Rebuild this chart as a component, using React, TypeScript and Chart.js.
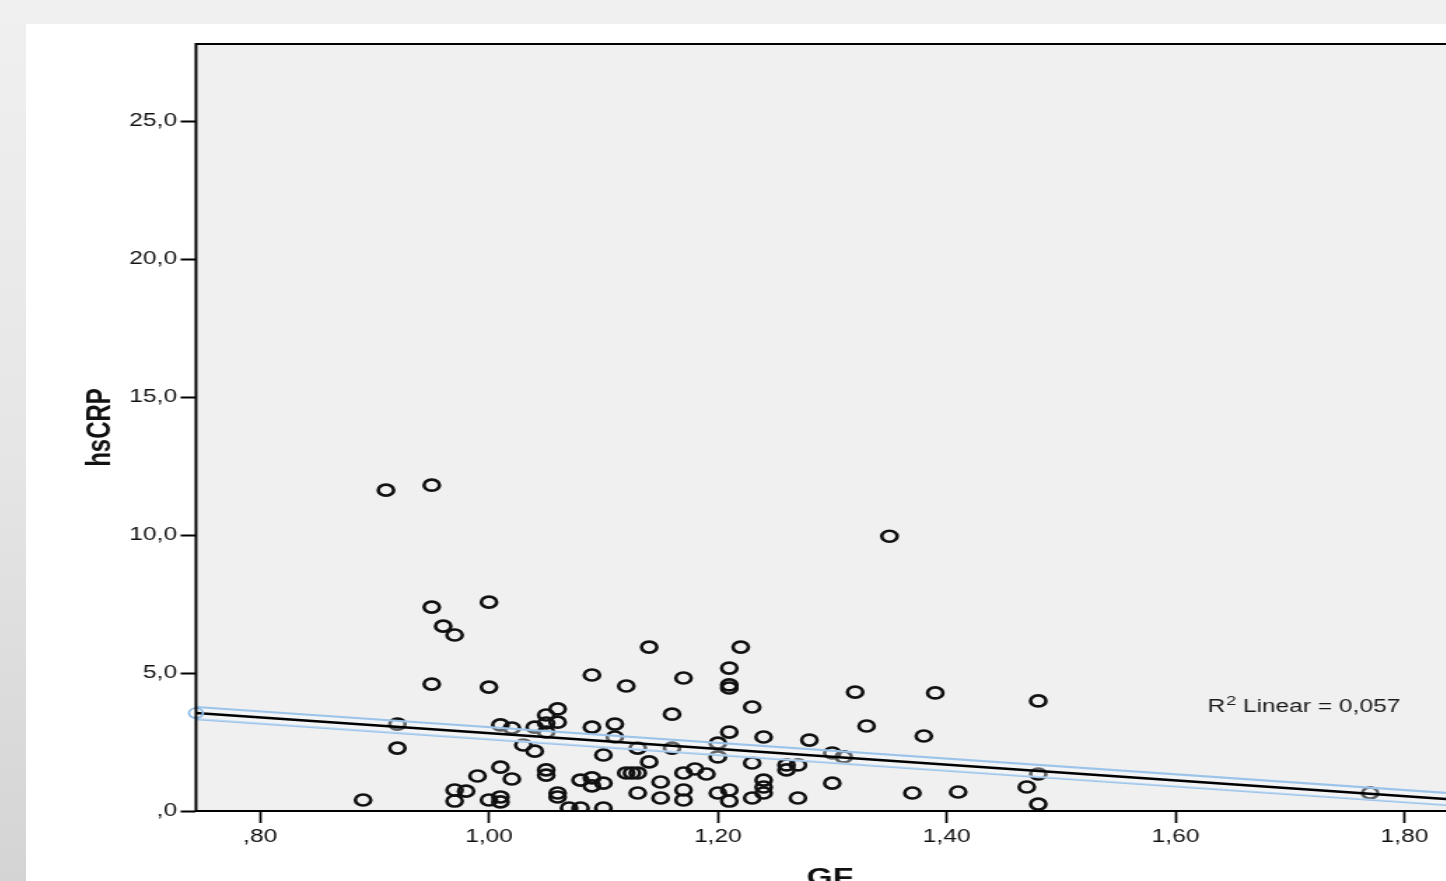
import React, { useEffect, useRef } from "react";
import { Chart, registerables } from "chart.js";

Chart.register(...registerables);

// ---- data ----
const GF_VALUES = [
  0.89, 0.91, 0.92, 0.92, 0.95, 0.95, 0.96, 0.97, 0.95, 0.97,
  0.97, 0.98, 0.99, 1.0, 1.0, 1.0, 1.01, 1.01, 1.01, 1.02,
  1.01, 1.02, 1.03, 1.04, 1.04, 1.05, 1.05, 1.05, 1.06, 1.06,
  1.05, 1.05, 1.06, 1.06, 1.07, 1.08, 1.08, 1.09, 1.09, 1.09,
  1.09, 1.1, 1.1, 1.1, 1.11, 1.11, 1.12, 1.12, 1.125, 1.13,
  1.13, 1.13, 1.14, 1.14, 1.15, 1.15, 1.16, 1.16, 1.17, 1.17,
  1.17, 1.17, 1.18, 1.19, 1.2, 1.2, 1.2, 1.21, 1.21, 1.21,
  1.21, 1.21, 1.21, 1.22, 1.23, 1.23, 1.23, 1.24, 1.24, 1.24,
  1.24, 1.26, 1.26, 1.27, 1.27, 1.28, 1.3, 1.31, 1.3, 1.32,
  1.33, 1.35, 1.37, 1.38, 1.39, 1.41, 1.47, 1.48, 1.48, 1.48,
  1.77,
];
const HSCRP_VALUES = [
  0.4, 11.63, 3.15, 2.28, 11.81, 7.39, 6.7, 6.38, 4.6, 0.76,
  0.36, 0.72, 1.27, 7.57, 4.49, 0.4, 0.51, 0.33, 1.59, 1.16,
  3.12, 3.01, 2.39, 2.17, 3.04, 3.48, 3.19, 2.86, 3.7, 3.22,
  1.49, 1.3, 0.65, 0.51, 0.11, 0.11, 1.12, 1.2, 0.91, 4.93,
  3.04, 1.01, 2.03, 0.11, 3.15, 2.68, 4.53, 1.38, 1.38, 1.38,
  2.28, 0.65, 5.94, 1.78, 1.05, 0.47, 3.51, 2.28, 4.82, 1.38,
  0.76, 0.4, 1.52, 1.34, 2.46, 1.96, 0.65, 5.18, 4.57, 4.46,
  2.86, 0.76, 0.36, 5.94, 3.77, 1.74, 0.47, 2.68, 1.12, 0.87,
  0.65, 1.67, 1.49, 1.67, 0.47, 2.57, 2.1, 1.96, 1.01, 4.31,
  3.08, 9.96, 0.65, 2.72, 4.28, 0.69, 0.87, 3.99, 1.34, 0.25,
  0.65,
];

const X_TICKS = [0.8, 1.0, 1.2, 1.4, 1.6, 1.8];
const X_TICK_LABELS = [",80", "1,00", "1,20", "1,40", "1,60", "1,80"];
const Y_TICKS = [0, 5, 10, 15, 20, 25];
const Y_TICK_LABELS = [",0", "5,0", "10,0", "15,0", "20,0", "25,0"];

const X_MIN = 0.744;
const X_MAX = 1.852;
const Y_MIN = 0;
const Y_MAX = 27.8;

// linear fit  hsCRP = a + b * GF
const FIT_INTERCEPT = 5.67;
const FIT_SLOPE = -2.85;
const FIT_BAND = 0.22; // half-width of the highlighted band, in hsCRP units

const X_TITLE = "GF";
const Y_TITLE = "hsCRP";
const R2_PREFIX = "R";
const R2_SUP = "2";
const R2_TEXT = " Linear = 0,057";
const R2_ANCHOR_X = 1.628;
const R2_ANCHOR_Y = 3.8;

// ---- layout ----
const FONT = "'Liberation Sans', Arial, Helvetica, sans-serif";
const STRETCH_X = 1.4;
const CANVAS_W = 1050;
const CANVAS_H = 900;

function findLabel(v: number, ticks: number[], labels: string[]) {
  const i = ticks.findIndex((t) => Math.abs(t - v) < 1e-9);
  return i >= 0 ? labels[i] : "";
}

const plotBackground = {
  id: "plotBackground",
  beforeDraw(chart: any) {
    const { ctx, chartArea: a } = chart;
    ctx.save();
    ctx.fillStyle = "#f0f0f0";
    ctx.fillRect(a.left, a.top, a.right - a.left, a.bottom - a.top);
    ctx.restore();
  },
};

const plotFrame = {
  id: "plotFrame",
  afterDraw(chart: any) {
    const { ctx, chartArea: a } = chart;
    ctx.save();
    ctx.strokeStyle = "#000";
    ctx.lineWidth = 2;
    ctx.strokeRect(a.left, a.top, a.right - a.left, a.bottom - a.top);
    ctx.restore();
  },
};

const r2Label = {
  id: "r2Label",
  afterDatasetsDraw(chart: any) {
    const { ctx } = chart;
    const px = chart.scales.x.getPixelForValue(R2_ANCHOR_X);
    const py = chart.scales.y.getPixelForValue(R2_ANCHOR_Y);
    ctx.save();
    ctx.fillStyle = "#1a1a1a";
    ctx.textAlign = "left";
    ctx.textBaseline = "alphabetic";
    ctx.font = `17.5px ${FONT}`;
    ctx.fillText(R2_PREFIX, px, py + 6);
    let w = ctx.measureText(R2_PREFIX).width + 0.5;
    ctx.font = `13px ${FONT}`;
    ctx.fillText(R2_SUP, px + w, py - 1);
    w += ctx.measureText(R2_SUP).width;
    ctx.font = `17.5px ${FONT}`;
    ctx.fillText(R2_TEXT, px + w, py + 6);
    ctx.restore();
  },
};

export default function App() {
  const ref = useRef<HTMLCanvasElement>(null);

  useEffect(() => {
    const canvas = ref.current;
    if (!canvas) return;

    const points = GF_VALUES.map((x, i) => ({ x, y: HSCRP_VALUES[i] }));
    const fitAt = (x: number) => FIT_INTERCEPT + FIT_SLOPE * x;
    const fitXs = [X_MIN, X_MAX];
    const fitLine = fitXs.map((x) => ({ x, y: fitAt(x) }));
    const bandUpper = fitXs.map((x) => ({ x, y: fitAt(x) + FIT_BAND }));
    const bandLower = fitXs.map((x) => ({ x, y: fitAt(x) - FIT_BAND }));

    const chart = new Chart(canvas, {
      type: "scatter",
      data: {
        datasets: [
          {
            type: "line",
            data: fitLine,
            borderColor: "#000",
            borderWidth: 2.5,
            pointRadius: (c: any) => (c.dataIndex === 0 ? 5 : 0),
            pointBorderColor: "#8dbbe6",
            pointBackgroundColor: "rgba(0,0,0,0)",
            pointBorderWidth: 1.8,
            fill: false,
            order: 0,
            clip: false,
          } as any,
          {
            type: "line",
            data: bandUpper,
            borderColor: "#9cc4ea",
            borderWidth: 2.2,
            pointRadius: 0,
            fill: "+1",
            backgroundColor: "rgba(250,252,255,0.35)",
            order: 1,
          } as any,
          {
            type: "line",
            data: bandLower,
            borderColor: "#9cc4ea",
            borderWidth: 2.2,
            pointRadius: 0,
            fill: false,
            order: 1,
          } as any,
          {
            type: "scatter",
            data: points,
            pointStyle: "circle",
            pointRadius: 5.5,
            pointBorderWidth: 2.6,
            pointBorderColor: "#111",
            pointBackgroundColor: "rgba(0,0,0,0)",
            order: 2,
          } as any,
        ],
      },
      options: {
        responsive: false,
        animation: false,
        devicePixelRatio: 1,
        layout: { padding: { top: 20, right: 22.9, bottom: 0, left: 0 } },
        plugins: {
          legend: { display: false },
          tooltip: { enabled: false },
        },
        scales: {
          x: {
            type: "linear",
            min: X_MIN,
            max: X_MAX,
            afterBuildTicks: (s: any) => {
              s.ticks = X_TICKS.map((v) => ({ value: v }));
            },
            afterFit: (s: any) => {
              s.height = 113;
            },
            ticks: {
              callback: (v: any) => findLabel(Number(v), X_TICKS, X_TICK_LABELS),
              font: { family: FONT, size: 17.5 },
              color: "#111",
              padding: 4,
              maxRotation: 0,
              autoSkip: false,
            },
            grid: {
              drawOnChartArea: false,
              drawTicks: true,
              tickLength: 12,
              tickColor: "#000",
              tickWidth: 1.7,
            },
            border: { display: false },
            title: {
              display: true,
              text: X_TITLE,
              font: { family: FONT, size: 24, weight: "bold" },
              color: "#111",
              padding: { top: 0, bottom: 31 },
            },
          },
          y: {
            type: "linear",
            min: Y_MIN,
            max: Y_MAX,
            afterBuildTicks: (s: any) => {
              s.ticks = Y_TICKS.map((v) => ({ value: v }));
            },
            afterFit: (s: any) => {
              s.width = 121.43;
            },
            ticks: {
              callback: (v: any) => findLabel(Number(v), Y_TICKS, Y_TICK_LABELS),
              font: { family: FONT, size: 17.5 },
              color: "#111",
              padding: 2.5,
              autoSkip: false,
            },
            grid: {
              drawOnChartArea: false,
              drawTicks: true,
              tickLength: 11,
              tickColor: "#000",
              tickWidth: 2,
            },
            border: { display: false },
            title: {
              display: true,
              text: Y_TITLE,
              font: { family: FONT, size: 24, weight: "bold" },
              color: "#111",
              padding: { top: 38.5, bottom: 0 },
            },
          },
        },
      } as any,
      plugins: [plotBackground, plotFrame, r2Label],
    });

    return () => chart.destroy();
  }, []);

  return (
    <div
      style={{
        position: "fixed",
        left: 0,
        top: 0,
        width: 1446,
        height: 881,
        overflow: "hidden",
        background: "linear-gradient(180deg, #f0f0f0 0%, #e6e6e6 50%, #d4d4d4 100%)",
      }}
    >
      <div
        style={{
          position: "absolute",
          left: 26,
          top: 24,
          right: 0,
          bottom: 0,
          background: "#ffffff",
        }}
      />
      <canvas
        ref={ref}
        width={CANVAS_W}
        height={CANVAS_H}
        style={{
          position: "absolute",
          left: 26,
          top: 24,
          width: `${CANVAS_W * STRETCH_X}px`,
          height: `${CANVAS_H}px`,
        }}
      />
    </div>
  );
}
